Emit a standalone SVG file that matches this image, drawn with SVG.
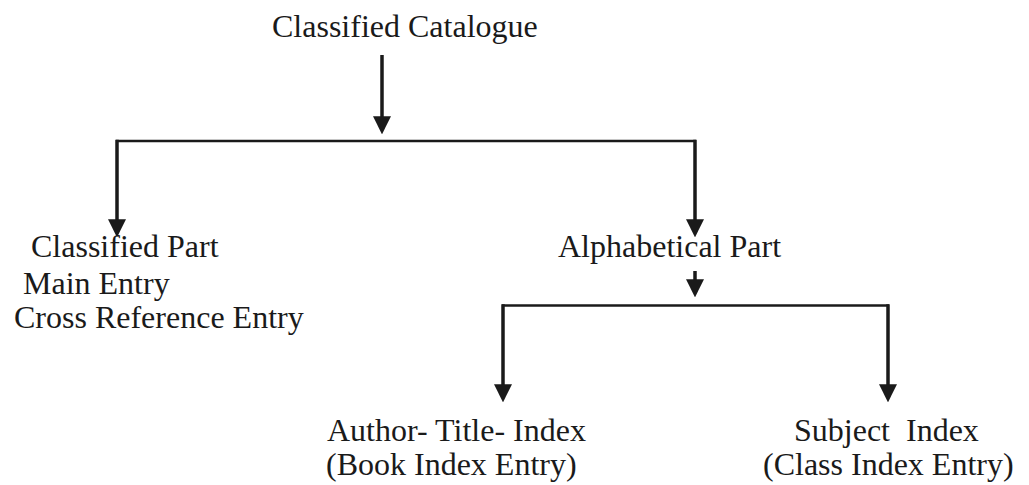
<svg xmlns="http://www.w3.org/2000/svg" width="1029" height="485" viewBox="0 0 1029 485">
  <style>
    text { font-family: "Liberation Serif", "Times New Roman", serif; font-size: 32px; fill: #1a1a1a; }
    .v { stroke: #1a1a1a; stroke-width: 3.5; fill: none; marker-end: url(#ah); }
    .h { stroke: #1a1a1a; stroke-width: 2.5; fill: none; }
  </style>
  <defs>
    <marker id="ah" markerUnits="userSpaceOnUse" markerWidth="18" markerHeight="18" viewBox="0 0 17 17" refX="11" refY="8.5" orient="auto">
      <path d="M0,0 L17,8.5 L0,17 z" fill="#1a1a1a"/>
    </marker>
  </defs>
  <rect width="1029" height="485" fill="#ffffff"/>
  <g id="connectors">
    <line class="v" x1="382" y1="55" x2="382" y2="128"/>
    <line class="h" x1="116" y1="141" x2="696" y2="141"/>
    <line class="v" x1="117" y1="139.75" x2="117" y2="231"/>
    <line class="v" x1="695" y1="139.75" x2="695" y2="231"/>
    <line class="v" x1="695" y1="271" x2="695" y2="291"/>
    <line class="h" x1="502" y1="305.5" x2="889" y2="305.5"/>
    <line class="v" x1="503" y1="304.25" x2="503" y2="396"/>
    <line class="v" x1="888" y1="304.25" x2="888" y2="396"/>
  </g>
  <g id="node-classified-catalogue">
    <text x="272" y="37">Classified Catalogue</text>
  </g>
  <g id="node-classified-part">
    <text x="31" y="257">Classified Part</text>
    <text x="23" y="294">Main Entry</text>
    <text x="14" y="328">Cross Reference Entry</text>
  </g>
  <g id="node-alphabetical-part">
    <text x="558" y="257">Alphabetical Part</text>
  </g>
  <g id="node-author-title-index">
    <text x="327" y="441">Author- Title- Index</text>
    <text x="326" y="475">(Book Index Entry)</text>
  </g>
  <g id="node-subject-index">
    <text x="794" y="441" xml:space="preserve">Subject  Index</text>
    <text x="763" y="475">(Class Index Entry)</text>
  </g>
</svg>
